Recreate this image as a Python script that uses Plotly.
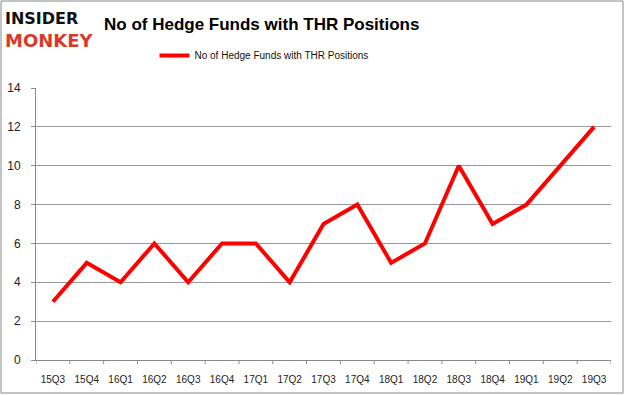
import plotly.graph_objects as go

quarters = ["15Q3", "15Q4", "16Q1", "16Q2", "16Q3", "16Q4", "17Q1", "17Q2", "17Q3",
            "17Q4", "18Q1", "18Q2", "18Q3", "18Q4", "19Q1", "19Q2", "19Q3"]
funds = [3, 5, 4, 6, 4, 6, 6, 4, 7, 8, 5, 6, 10, 7, 8, 10, 12]
series_name = "No of Hedge Funds with THR Positions"
title_text = "No of Hedge Funds with THR Positions"

fig = go.Figure()
fig.add_trace(go.Scatter(
    x=list(range(len(quarters))), y=funds, mode="lines", name=series_name,
    line=dict(color="#ff0000", width=4),
))

W, H = 625, 395
L, R, T, B = 36, 611, 88, 360

fig.update_layout(
    width=W, height=H,
    margin=dict(l=L, r=W - R, t=T, b=H - B, autoexpand=False),
    paper_bgcolor="white", plot_bgcolor="white",
    showlegend=True,
    legend=dict(orientation="h", x=(264 - L) / (R - L), xanchor="center",
                y=1 + (T - 70) / (B - T), yanchor="bottom",
                font=dict(family="Liberation Sans, Arial", size=10, color="#111"),
                itemwidth=30),
    font=dict(family="Liberation Sans, Arial", size=11, color="#333"),
    xaxis=dict(
        range=[-0.5, len(quarters) - 0.5], automargin=False,
        tickmode="array", tickvals=list(range(len(quarters))), ticktext=quarters,
        showgrid=False, zeroline=False, showline=True, linecolor="#888", linewidth=1,
        ticks="", tickfont=dict(size=10, color="#222"), ticklabelstandoff=10,
        fixedrange=True,
    ),
    yaxis=dict(
        range=[0, 14], dtick=2, showgrid=True, gridcolor="#999", gridwidth=1, automargin=False,
        zeroline=False, showline=True, linecolor="#888", linewidth=1,
        ticks="outside", ticklen=4, tickcolor="#888", ticklabelstandoff=8,
        tickfont=dict(size=12, color="#222"),
    ),
)

# x tick marks between categories
for i in range(len(quarters) + 1):
    fig.add_shape(type="line", xref="x", yref="paper", x0=i - 0.5, x1=i - 0.5,
                  y0=0, y1=-0.015, line=dict(color="#888", width=1))

# title
fig.add_annotation(text="<b>" + title_text + "</b>", xref="paper", yref="paper",
                   x=(261 - L) / (R - L), y=1 + (T - 25) / (B - T), xanchor="center",
                   yanchor="middle", showarrow=False,
                   font=dict(family="Liberation Sans, Arial", size=17, color="#000"))
# logo
fig.add_annotation(text="<b>INSIDER</b>", xref="paper", yref="paper",
                   x=(3 - L) / (R - L), y=1 + (T - 18) / (B - T), xanchor="left", yanchor="middle",
                   showarrow=False,
                   font=dict(family="DejaVu Sans, Arial Black", size=16, color="#111"))
fig.add_annotation(text="<b>MONKEY</b>", xref="paper", yref="paper",
                   x=(3 - L) / (R - L), y=1 + (T - 41) / (B - T), xanchor="left", yanchor="middle",
                   showarrow=False,
                   font=dict(family="DejaVu Sans, Arial Black", size=18, color="#d9392b"))

# border
fig.add_shape(type="rect", xref="paper", yref="paper",
              x0=-(L - 1) / (R - L), x1=1 + (W - R - 2) / (R - L),
              y0=-(H - B - 2) / (B - T), y1=1 + (T - 1) / (B - T),
              line=dict(color="#888", width=1))

fig.write_html("out.html", config={"displayModeBar": False},
               post_script="document.body.style.margin='0';")
